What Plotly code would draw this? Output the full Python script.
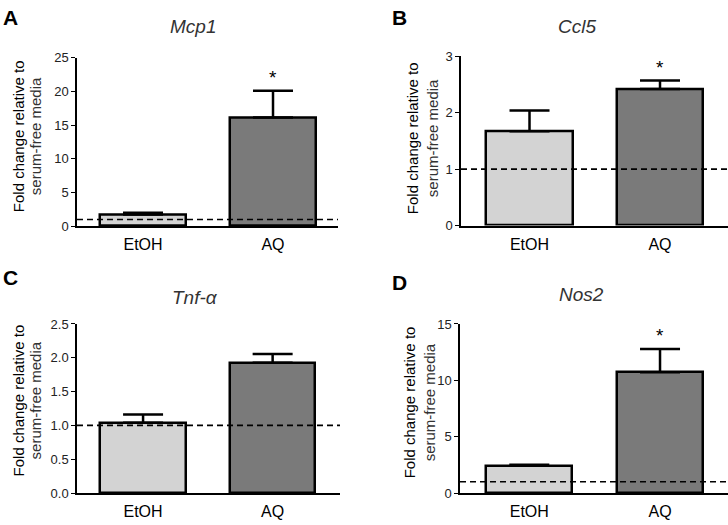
import plotly.graph_objects as go

W, H = 728, 525

categories = ["EtOH", "AQ"]
genes = ["Mcp1", "Ccl5", "Tnf-α", "Nos2"]
panel_letters = ["A", "B", "C", "D"]
mcp1_mean = [1.75, 16.15]
mcp1_err = [0.25, 3.95]
ccl5_mean = [1.67, 2.42]
ccl5_err = [0.37, 0.15]
tnfa_mean = [1.04, 1.925]
tnfa_err = [0.12, 0.13]
nos2_mean = [2.42, 10.72]
nos2_err = [0.08, 2.06]
significant = [[False, True], [False, True], [False, False], [False, True]]
y_max = [25, 3, 2.5, 15]
y_dtick = [5, 1, 0.5, 5]
y_fmt = ["", "", ".1f", ""]
bar_colors = ["#d3d3d3", "#7a7a7a"]

means = [mcp1_mean, ccl5_mean, tnfa_mean, nos2_mean]
errs = [mcp1_err, ccl5_err, tnfa_err, nos2_err]

# pixel geometry of each panel: x0, x1, ytop, ybottom, x-range
geom = [
    (77, 338, 52.3, 225.7, [-0.508, 1.5]),
    (461, 728, 50.7, 225.0, [-0.525, 1.521]),
    (77, 340, 326.3, 500.3, [-0.51, 1.52]),
    (460, 728, 326.3, 500.3, [-0.53, 1.52]),
]
title_pos = [(193, 20), (577, 20), (195, 299), (581, 296)]
letter_pos = [(10, 11), (399, 11), (10, 278), (399, 284)]
ylab_pos = [(18, 35, 133), (412, 432, 135), (18, 35, 405), (409, 429, 407)]

FONT = "Liberation Sans, Arial, sans-serif"
fig = go.Figure()
annotations = []
shapes = []

for i in range(4):
    x0, x1, yt, yb, xr = geom[i]
    xa = "x" if i == 0 else f"x{i+1}"
    ya = "y" if i == 0 else f"y{i+1}"
    fig.add_trace(go.Bar(
        x=categories, y=means[i],
        marker=dict(color=bar_colors, line=dict(color="black", width=2.5)),
        width=0.66,
        error_y=dict(type="data", array=errs[i], arrayminus=[0, 0], symmetric=False,
                     color="black", thickness=2.5, width=20),
        xaxis=xa, yaxis=ya, showlegend=False,
    ))
    xk = "xaxis" if i == 0 else f"xaxis{i+1}"
    yk = "yaxis" if i == 0 else f"yaxis{i+1}"
    fig.update_layout(**{
        xk: dict(domain=[x0 / W, x1 / W], anchor=ya, range=xr, type="category",
                 showline=True, linecolor="black", linewidth=1.5, ticks="",
                 showgrid=False, zeroline=False, ticklabelstandoff=3,
                 tickfont=dict(family=FONT, size=16, color="black")),
        yk: dict(domain=[1 - yb / H, 1 - yt / H], anchor=xa, range=[0, y_max[i]],
                 dtick=y_dtick[i], tickformat=y_fmt[i],
                 showline=True, linecolor="black", linewidth=1.5,
                 ticks="outside", ticklen=4, tickwidth=1.2, tickcolor="black",
                 showgrid=False, zeroline=False,
                 tickfont=dict(family=FONT, size=13, color="#222")),
    })
    shapes.append(dict(type="line", xref=f"{xa} domain", yref=ya, x0=0, x1=1, y0=1, y1=1,
                       line=dict(color="black", width=1.6, dash="6px,4px"), layer="above"))
    for j in range(2):
        if significant[i][j]:
            annotations.append(dict(xref=xa, yref=ya, x=categories[j],
                                    y=means[i][j] + errs[i][j], text="*",
                                    showarrow=False, yanchor="bottom", yshift=1,
                                    font=dict(family=FONT, size=19, color="black")))
    tx, ty = title_pos[i]
    annotations.append(dict(xref="paper", yref="paper", x=tx / W, y=1 - ty / H,
                            text=f"<i>{genes[i]}</i>", showarrow=False,
                            xanchor="center", yanchor="middle",
                            font=dict(family=FONT, size=19, color="#333")))
    lx, ly = letter_pos[i]
    annotations.append(dict(xref="paper", yref="paper", x=lx / W, y=1 - ly / H,
                            text=f"<b>{panel_letters[i]}</b>", showarrow=False,
                            xanchor="center", yanchor="middle",
                            font=dict(family=FONT, size=21, color="black")))
    l1x, l2x, lyc = ylab_pos[i]
    annotations.append(dict(xref="paper", yref="paper", x=l1x / W, y=1 - lyc / H,
                            text="Fold change relative to", textangle=-90, showarrow=False,
                            xanchor="center", yanchor="middle",
                            font=dict(family=FONT, size=15, color="black")))
    annotations.append(dict(xref="paper", yref="paper", x=l2x / W, y=1 - lyc / H,
                            text="serum-free media", textangle=-90, showarrow=False,
                            xanchor="center", yanchor="middle",
                            font=dict(family=FONT, size=15, color="#333")))

fig.update_layout(width=W, height=H, margin=dict(l=0, r=0, t=0, b=0),
                  plot_bgcolor="white", paper_bgcolor="white",
                  annotations=annotations, shapes=shapes, bargap=0)
fig.write_html("out.html", config={"displayModeBar": False},
               post_script="document.body.style.margin='0';document.body.style.overflow='hidden';")
